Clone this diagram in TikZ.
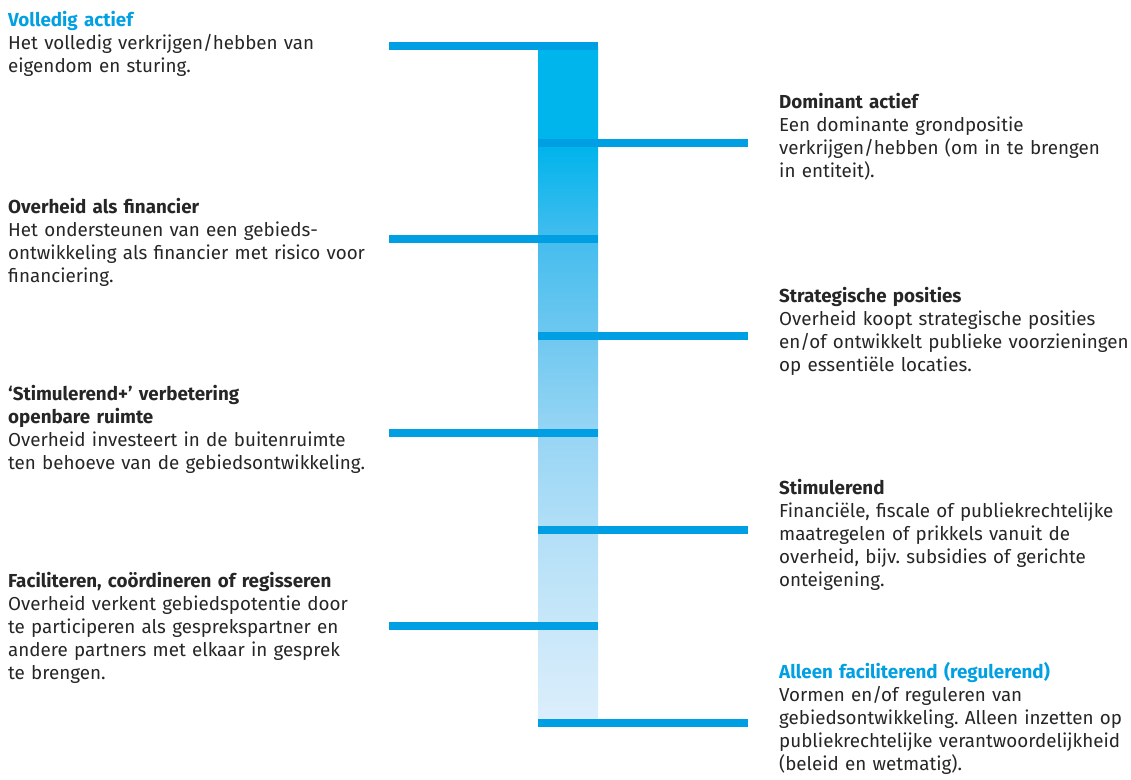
\documentclass[tikz,border=0pt]{standalone}
\usepackage{fontspec}
\setmainfont{Fira Sans}
\frenchspacing
\definecolor{txt}{HTML}{262626}
\definecolor{rijkblue}{HTML}{009FE3}
\definecolor{titleblue}{HTML}{01A0E2}
\definecolor{barA}{HTML}{00B4EC}
\definecolor{barB}{HTML}{45BDEE}
\definecolor{barC}{HTML}{6FC8F0}
\definecolor{barD}{HTML}{97D5F4}
\definecolor{barE}{HTML}{B2DFF7}
\definecolor{barF}{HTML}{C8E7F9}
\definecolor{barG}{HTML}{DCEEFC}
\pgfdeclareverticalshading{barshade}{100bp}{
  color(0bp)=(barG); color(25bp)=(barG); color(32.2bp)=(barF); color(39.3bp)=(barE);
  color(46.4bp)=(barD); color(53.6bp)=(barC); color(60.7bp)=(barB);
  color(67.6bp)=(barA); color(100bp)=(barA)}
\tikzset{
  desc/.style={anchor=base west, inner sep=0pt, text width=420pt, align=left,
    font=\fontsize{18.8}{23.2}\selectfont, text=txt},
  hline/.style={draw=rijkblue, line width=8pt},
}
\begin{document}
\begin{tikzpicture}[x=1pt,y=-1pt]
\useasboundingbox (0,0) rectangle (1131,779);
% bar
\fill[shading=barshade] (538,46) rectangle (598,723);
% levels
\coordinate (L1a) at (389,46);  \coordinate (L1b) at (598,46);
\coordinate (R1a) at (538,142.7); \coordinate (R1b) at (748,142.7);
\coordinate (L2a) at (389,239.4); \coordinate (L2b) at (598,239.4);
\coordinate (R2a) at (538,336); \coordinate (R2b) at (748,336);
\coordinate (L3a) at (389,432.8); \coordinate (L3b) at (598,432.8);
\coordinate (R3a) at (538,529.5); \coordinate (R3b) at (748,529.5);
\coordinate (L4a) at (389,626.2); \coordinate (L4b) at (598,626.2);
\coordinate (R4a) at (538,723); \coordinate (R4b) at (748,723);
\foreach \n in {L1,R1,L2,R2,L3,R3,L4,R4} \draw[hline] (\n a) -- (\n b);
% left texts
\node[desc] (t1) at (8,26) {\textcolor{titleblue}{\textbf{Volledig actief}}\\Het volledig verkrijgen/hebben van\\eigendom en sturing.};
\node[desc] (t3) at (8,213) {\textbf{Overheid als financier}\\Het ondersteunen van een gebieds-\\ontwikkeling als financier met risico voor\\financiering.};
\node[desc] (t5) at (8,400) {\textbf{‘Stimulerend+’ verbetering}\\\textbf{openbare ruimte}\\Overheid investeert in de buitenruimte\\ten behoeve van de gebiedsontwikkeling.};
\node[desc] (t7) at (8,587) {\textbf{Faciliteren, coördineren of regisseren}\\Overheid verkent gebiedspotentie door\\te participeren als gesprekspartner en\\andere partners met elkaar in gesprek\\te brengen.};
% right texts
\node[desc] (t2) at (779,108) {\textbf{Dominant actief}\\Een dominante grondpositie\\verkrijgen/hebben (om in te brengen\\in entiteit).};
\node[desc] (t4) at (779,302) {\textbf{Strategische posities}\\Overheid koopt strategische posities\\en/of ontwikkelt publieke voorzieningen\\op essentiële locaties.};
\node[desc] (t6) at (779,494) {\textbf{Stimulerend}\\Financiële, fiscale of publiekrechtelijke\\maatregelen of prikkels vanuit de\\overheid, bijv. subsidies of gerichte\\onteigening.};
\node[desc] (t8) at (779,678) {\textcolor{titleblue}{\textbf{Alleen faciliterend (regulerend)}}\\Vormen en/of reguleren van\\gebiedsontwikkeling. Alleen inzetten op\\publiekrechtelijke verantwoordelijkheid\\(beleid en wetmatig).};
\end{tikzpicture}
\end{document}
